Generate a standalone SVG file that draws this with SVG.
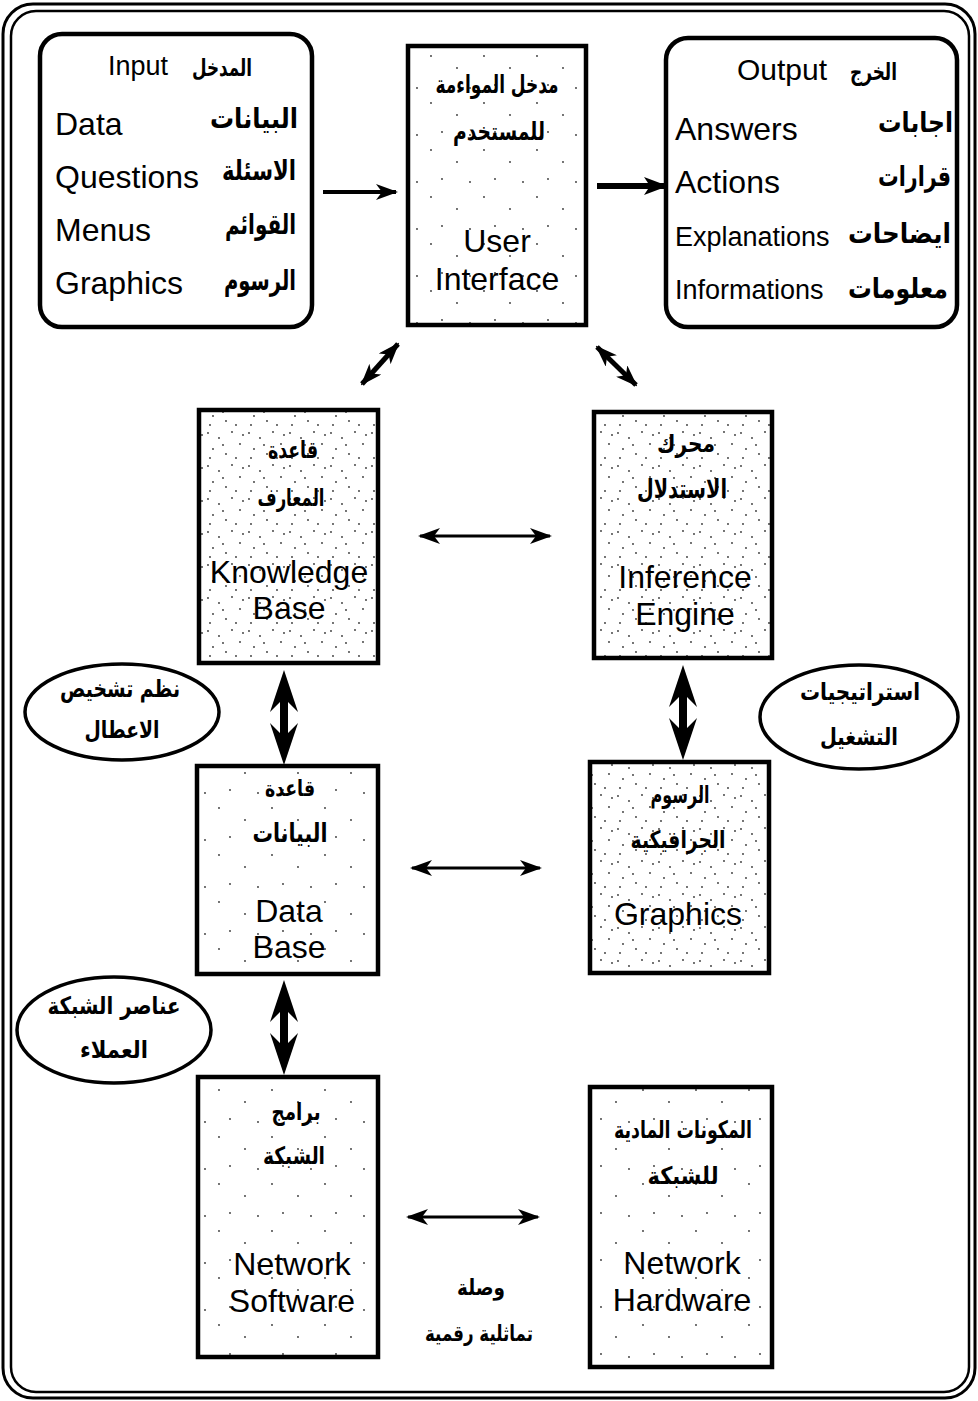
<svg xmlns="http://www.w3.org/2000/svg" width="978" height="1401" viewBox="0 0 978 1401">
<style>
.box{fill:#fff;stroke:#000;stroke-width:4.5}
.rbox{fill:#fff;stroke:#000;stroke-width:4.5}
.ell{fill:#fff;stroke:#000;stroke-width:3.5}
.en{font-family:"Liberation Sans",Arial,sans-serif;fill:#000}
.ar{font-family:"DejaVu Sans",sans-serif;font-weight:bold;fill:#000}
.c{text-anchor:middle}
.e{text-anchor:end}
.ln{stroke:#000;fill:none}
.hd{fill:#000;stroke:none}
</style>
<defs>
<pattern id="stip" width="41" height="33" patternUnits="userSpaceOnUse">
<rect width="41" height="33" fill="#fff"/>
<circle cx="3" cy="4" r="0.9" fill="#333"/><circle cx="14" cy="9" r="0.9" fill="#333"/>
<circle cx="27" cy="3" r="0.9" fill="#333"/><circle cx="35" cy="15" r="0.9" fill="#333"/>
<circle cx="8" cy="20" r="0.9" fill="#333"/><circle cx="21" cy="25" r="0.9" fill="#333"/>
<circle cx="31" cy="29" r="0.9" fill="#333"/><circle cx="18" cy="16" r="0.9" fill="#333"/>
<circle cx="38" cy="6" r="0.9" fill="#333"/><circle cx="5" cy="29" r="0.9" fill="#333"/>
</pattern>
<pattern id="sparse" width="53" height="47" patternUnits="userSpaceOnUse">
<rect width="53" height="47" fill="#fff"/>
<circle cx="7" cy="9" r="0.9" fill="#333"/><circle cx="33" cy="21" r="0.9" fill="#333"/>
<circle cx="18" cy="38" r="0.9" fill="#333"/><circle cx="46" cy="41" r="0.9" fill="#333"/>
</pattern>
<marker id="hd" viewBox="0 0 22 16" refX="20" refY="8" markerWidth="22" markerHeight="16" markerUnits="userSpaceOnUse" orient="auto-start-reverse">
<path d="M0,0 L22,8 L0,16 L6,8 z" fill="#000"/>
</marker>
<marker id="hdb" viewBox="0 0 24 18" refX="22" refY="9" markerWidth="24" markerHeight="18" markerUnits="userSpaceOnUse" orient="auto-start-reverse">
<path d="M0,0 L24,9 L0,18 L6,9 z" fill="#000"/>
</marker>
</defs>
<rect width="978" height="1401" fill="#fff"/>
<rect x="3" y="4" width="972" height="1394" rx="30" fill="none" stroke="#000" stroke-width="3"/>
<rect x="11" y="11" width="958" height="1381" rx="25" fill="none" stroke="#000" stroke-width="2.5"/>

<g id="input">
<rect class="rbox" x="40" y="34" width="272" height="293" rx="22"/>
<text class="en" x="108" y="75" font-size="27">Input</text>
<text class="ar e" x="252" y="76" font-size="24" textLength="60" lengthAdjust="spacingAndGlyphs">المدخل</text>
<text class="en" x="55" y="135" font-size="32">Data</text>
<text class="ar e" x="298" y="128" font-size="28" textLength="88" lengthAdjust="spacingAndGlyphs">البيانات</text>
<text class="en" x="55" y="188" font-size="32">Questions</text>
<text class="ar e" x="296" y="180" font-size="27" textLength="74" lengthAdjust="spacingAndGlyphs">الاسئلة</text>
<text class="en" x="55" y="241" font-size="32">Menus</text>
<text class="ar e" x="296" y="234" font-size="28" textLength="71" lengthAdjust="spacingAndGlyphs">القوائم</text>
<text class="en" x="55" y="294" font-size="32">Graphics</text>
<text class="ar e" x="296" y="290" font-size="28" textLength="72" lengthAdjust="spacingAndGlyphs">الرسوم</text>
</g>

<g id="user-interface">
<rect class="box" x="408" y="46" width="178" height="279" style="fill:url(#sparse)"/>
<text class="ar c" x="497" y="93" font-size="25" textLength="123" lengthAdjust="spacingAndGlyphs">مدخل المواءمة</text>
<text class="ar c" x="499" y="140" font-size="25" textLength="92" lengthAdjust="spacingAndGlyphs">للمستخدم</text>
<text class="en c" x="497" y="252" font-size="32">User</text>
<text class="en c" x="497" y="290" font-size="32">Interface</text>
</g>

<g id="output">
<rect class="rbox" x="666" y="38" width="291" height="289" rx="22"/>
<text class="en" x="737" y="80" font-size="30">Output</text>
<text class="ar e" x="897" y="80" font-size="24" textLength="47" lengthAdjust="spacingAndGlyphs">الخرج</text>
<text class="en" x="675" y="140" font-size="32">Answers</text>
<text class="ar e" x="953" y="132" font-size="28" textLength="75" lengthAdjust="spacingAndGlyphs">اجابات</text>
<text class="en" x="675" y="193" font-size="32">Actions</text>
<text class="ar e" x="951" y="186" font-size="28" textLength="73" lengthAdjust="spacingAndGlyphs">قرارات</text>
<text class="en" x="675" y="246" font-size="27">Explanations</text>
<text class="ar e" x="951" y="243" font-size="28" textLength="103" lengthAdjust="spacingAndGlyphs">ايضاحات</text>
<text class="en" x="675" y="299" font-size="27">Informations</text>
<text class="ar e" x="948" y="298" font-size="28" textLength="100" lengthAdjust="spacingAndGlyphs">معلومات</text>
</g>

<g id="knowledge-base">
<rect class="box" x="199" y="410" width="179" height="253" style="fill:url(#stip)"/>
<text class="ar c" x="293" y="458" font-size="24" textLength="50" lengthAdjust="spacingAndGlyphs">قاعدة</text>
<text class="ar c" x="291" y="506" font-size="24" textLength="67" lengthAdjust="spacingAndGlyphs">المعارف</text>
<text class="en c" x="289" y="583" font-size="32">Knowledge</text>
<text class="en c" x="289" y="619" font-size="32">Base</text>
</g>

<g id="inference-engine">
<rect class="box" x="594" y="412" width="178" height="246" style="fill:url(#stip)"/>
<text class="ar c" x="686" y="452" font-size="24" textLength="58" lengthAdjust="spacingAndGlyphs">محرك</text>
<text class="ar c" x="682" y="498" font-size="26" textLength="90" lengthAdjust="spacingAndGlyphs">الاستدلال</text>
<text class="en c" x="685" y="588" font-size="32">Inference</text>
<text class="en c" x="685" y="625" font-size="32">Engine</text>
</g>

<g id="data-base">
<rect class="box" x="197" y="766" width="181" height="208" style="fill:url(#sparse)"/>
<text class="ar c" x="290" y="796" font-size="22" textLength="50" lengthAdjust="spacingAndGlyphs">قاعدة</text>
<text class="ar c" x="290" y="842" font-size="26" textLength="75" lengthAdjust="spacingAndGlyphs">البيانات</text>
<text class="en c" x="289" y="922" font-size="32">Data</text>
<text class="en c" x="289" y="958" font-size="32">Base</text>
</g>

<g id="graphics">
<rect class="box" x="590" y="762" width="179" height="211" style="fill:url(#stip)"/>
<text class="ar c" x="680" y="803" font-size="24" textLength="59" lengthAdjust="spacingAndGlyphs">الرسوم</text>
<text class="ar c" x="678" y="848" font-size="24" textLength="95" lengthAdjust="spacingAndGlyphs">الجرافيكية</text>
<text class="en c" x="678" y="925" font-size="32">Graphics</text>
</g>

<g id="network-software">
<rect class="box" x="198" y="1077" width="180" height="280" style="fill:url(#sparse)"/>
<text class="ar c" x="296" y="1120" font-size="24" textLength="49" lengthAdjust="spacingAndGlyphs">برامج</text>
<text class="ar c" x="294" y="1164" font-size="24" textLength="62" lengthAdjust="spacingAndGlyphs">الشبكة</text>
<text class="en c" x="292" y="1275" font-size="32">Network</text>
<text class="en c" x="292" y="1312" font-size="32">Software</text>
</g>

<g id="network-hardware">
<rect class="box" x="590" y="1087" width="182" height="280" style="fill:url(#sparse)"/>
<text class="ar c" x="683" y="1138" font-size="24" textLength="138" lengthAdjust="spacingAndGlyphs">المكونات المادية</text>
<text class="ar c" x="683" y="1184" font-size="24" textLength="71" lengthAdjust="spacingAndGlyphs">للشبكة</text>
<text class="en c" x="682" y="1274" font-size="32">Network</text>
<text class="en c" x="682" y="1311" font-size="32">Hardware</text>
</g>

<g id="diag-faults">
<ellipse class="ell" cx="122" cy="712" rx="97" ry="48"/>
<text class="ar c" x="120" y="697" font-size="24" textLength="120" lengthAdjust="spacingAndGlyphs">نظم تشخيص</text>
<text class="ar c" x="122" y="738" font-size="24" textLength="75" lengthAdjust="spacingAndGlyphs">الاعطال</text>
</g>

<g id="net-clients">
<ellipse class="ell" cx="114" cy="1030" rx="97" ry="53"/>
<text class="ar c" x="114" y="1014" font-size="24" textLength="133" lengthAdjust="spacingAndGlyphs">عناصر الشبكة</text>
<text class="ar c" x="114" y="1058" font-size="24" textLength="68" lengthAdjust="spacingAndGlyphs">العملاء</text>
</g>

<g id="strategies">
<ellipse class="ell" cx="859" cy="717" rx="99" ry="52"/>
<text class="ar c" x="860" y="700" font-size="24" textLength="120" lengthAdjust="spacingAndGlyphs">استراتيجيات</text>
<text class="ar c" x="859" y="745" font-size="24" textLength="78" lengthAdjust="spacingAndGlyphs">التشغيل</text>
</g>

<g id="link-label">
<text class="ar c" x="481" y="1295" font-size="22" textLength="48" lengthAdjust="spacingAndGlyphs">وصلة</text>
<text class="ar c" x="479" y="1341" font-size="22" textLength="108" lengthAdjust="spacingAndGlyphs">تماثلية رقمية</text>
</g>

<g id="connectors">
<line class="ln" x1="323" y1="192" x2="396" y2="192" stroke-width="4" marker-end="url(#hd)"/>
<line class="ln" x1="597" y1="186" x2="666" y2="186" stroke-width="6" marker-end="url(#hdb)"/>
<line class="ln" x1="362" y1="384" x2="398" y2="344" stroke-width="5" marker-start="url(#hd)" marker-end="url(#hd)"/>
<line class="ln" x1="597" y1="347" x2="636" y2="385" stroke-width="5" marker-start="url(#hd)" marker-end="url(#hd)"/>
<line class="ln" x1="420" y1="536" x2="550" y2="536" stroke-width="3" marker-start="url(#hd)" marker-end="url(#hd)"/>
<line class="ln" x1="412" y1="868" x2="540" y2="868" stroke-width="3" marker-start="url(#hd)" marker-end="url(#hd)"/>
<line class="ln" x1="408" y1="1217" x2="538" y2="1217" stroke-width="3" marker-start="url(#hd)" marker-end="url(#hd)"/>
<polygon class="hd" points="284,670 298,712 288,702 288,733 298,723 284,765 270,723 280,733 280,702 270,712"/>
<polygon class="hd" points="683,665 697,707 687,697 687,728 697,718 683,760 669,718 679,728 679,697 669,707"/>
<polygon class="hd" points="284,980 298,1022 288,1012 288,1043 298,1033 284,1075 270,1033 280,1043 280,1012 270,1022"/>
</g>
</svg>
